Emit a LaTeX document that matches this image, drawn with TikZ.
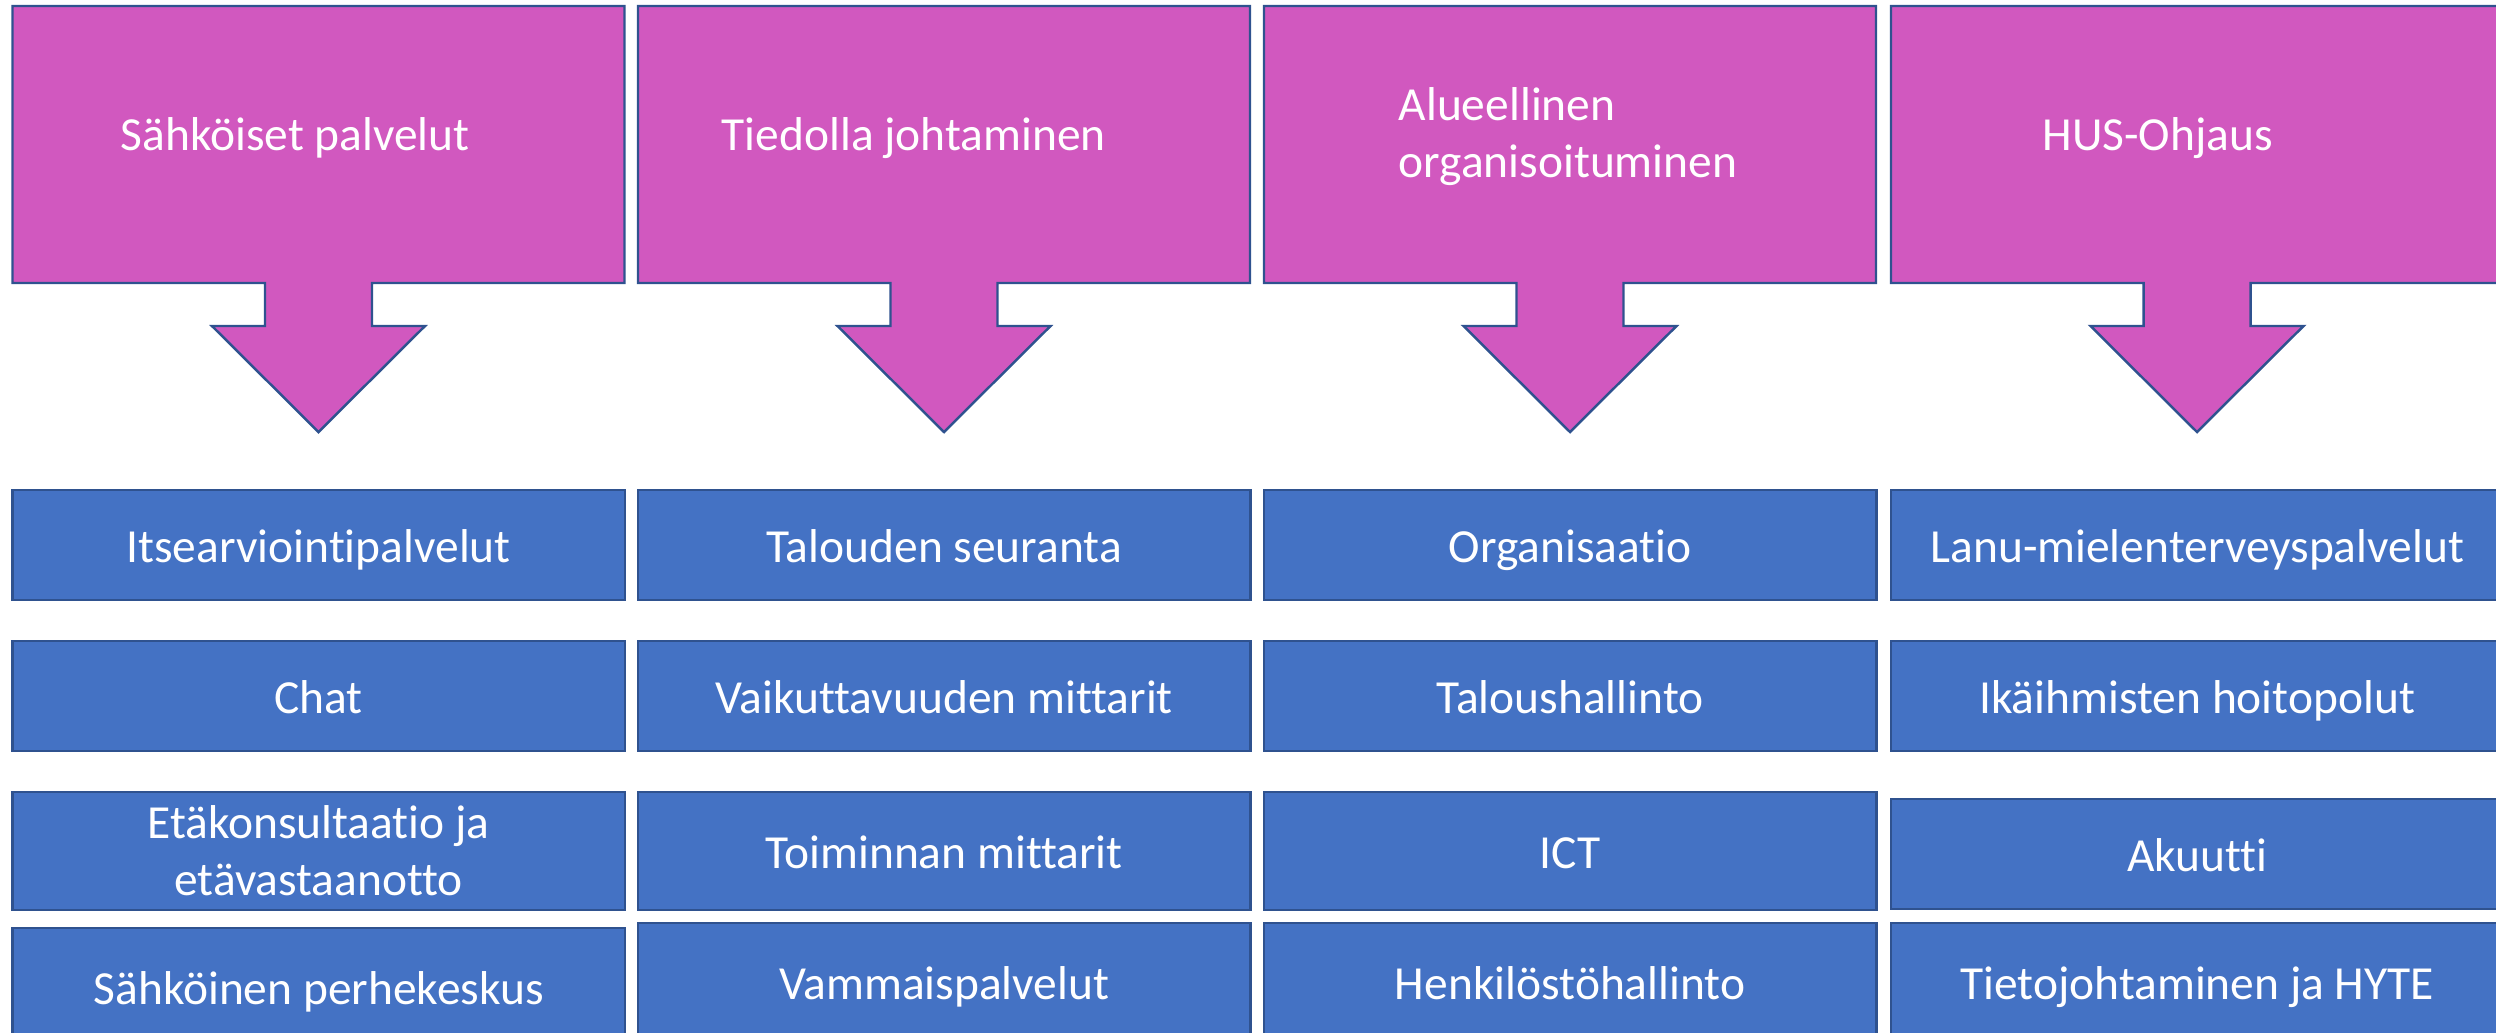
\documentclass[tikz,border=0pt]{standalone}
\usepackage{fontspec}
\setmainfont{Carlito}[Ligatures=NoCommon]
\usepackage{xcolor}
\usepackage{tikz}
\definecolor{calloutpink}{RGB}{209,88,191}
\definecolor{taskblue}{RGB}{68,114,196}
\definecolor{edgeblue}{RGB}{47,82,143}

\begin{document}
\begin{tikzpicture}[x=0.01cm, y=-0.01cm, every node/.style={text=white, font=\fontsize{13.5}{16.2}\selectfont}, callout/.style={fill=calloutpink, draw=edgeblue, line width=0.7pt}, head/.style={anchor=base west, inner sep=0pt, align=left}, task/.style={rectangle, anchor=north west, fill=taskblue, draw=edgeblue, line width=0.7pt, outer sep=0pt, inner sep=0pt, minimum width=6.12cm, minimum height=1.1cm, align=center, text height=12.15pt, text depth=2.5pt}, tall/.style={minimum height=1.18cm}]
  \useasboundingbox (0,0) rectangle (2496,1032);
  \clip (0,0) rectangle (2496,1032);
  \foreach \l in {12.5,638,1264,1891}
    \draw[callout] (\l,6) -- ++(612,0) -- ++(0,277) -- ++(-252.5,0) -- ++(0,43) -- ++(53,0) -- ++(-106.5,106) -- ++(-106.5,-106) -- ++(53,0) -- ++(0,-43) -- ++(-252.5,0) -- cycle;
  \node[head] (sahkoiset) at (120,150) {Sähköiset palvelut};
  \node[head] (tiedolla) at (721,150) {Tiedolla johtaminen};
  \node[head] (alueellinen) at (1398,177) {Alueellinen\\organisoituminen};
  \node[head] (hus) at (2042,150) {HUS-Ohjaus};
  \node[task] (itsearvio) at (12.5,490) {Itsearviointipalvelut};
  \node[task] (chat) at (12.5,641) {Chat};
  \node[task, tall, text height=, text depth=] (etakonsultaatio) at (12.5,792) {Etäkonsultaatio ja\\etävastaanotto};
  \node[task, tall] (perhekeskus) at (12.5,928) {Sähköinen perhekeskus};
  \node[task] (talous) at (638,490) {Talouden seuranta};
  \node[task] (vaikuttavuus) at (638,641) {Vaikuttavuuden mittarit};
  \node[task, tall] (toiminta) at (638,792) {Toiminnan mittarit};
  \node[task, tall] (vammais) at (638,923) {Vammaispalvelut};
  \node[task] (organisaatio) at (1264,490) {Organisaatio};
  \node[task] (taloushallinto) at (1264,641) {Taloushallinto};
  \node[task, tall] (ict) at (1264,792) {ICT};
  \node[task, tall] (henkilosto) at (1264,923) {Henkilöstöhallinto};
  \node[task] (lanu) at (1891,490) {Lanu-mielenterveyspalvelut};
  \node[task] (ikaihmiset) at (1891,641) {Ikäihmisten hoitopolut};
  \node[task] (akuutti) at (1891,799) {Akuutti};
  \node[task, tall] (tietojohtaminen) at (1891,923) {Tietojohtaminen ja HYTE};
\end{tikzpicture}
\end{document}
